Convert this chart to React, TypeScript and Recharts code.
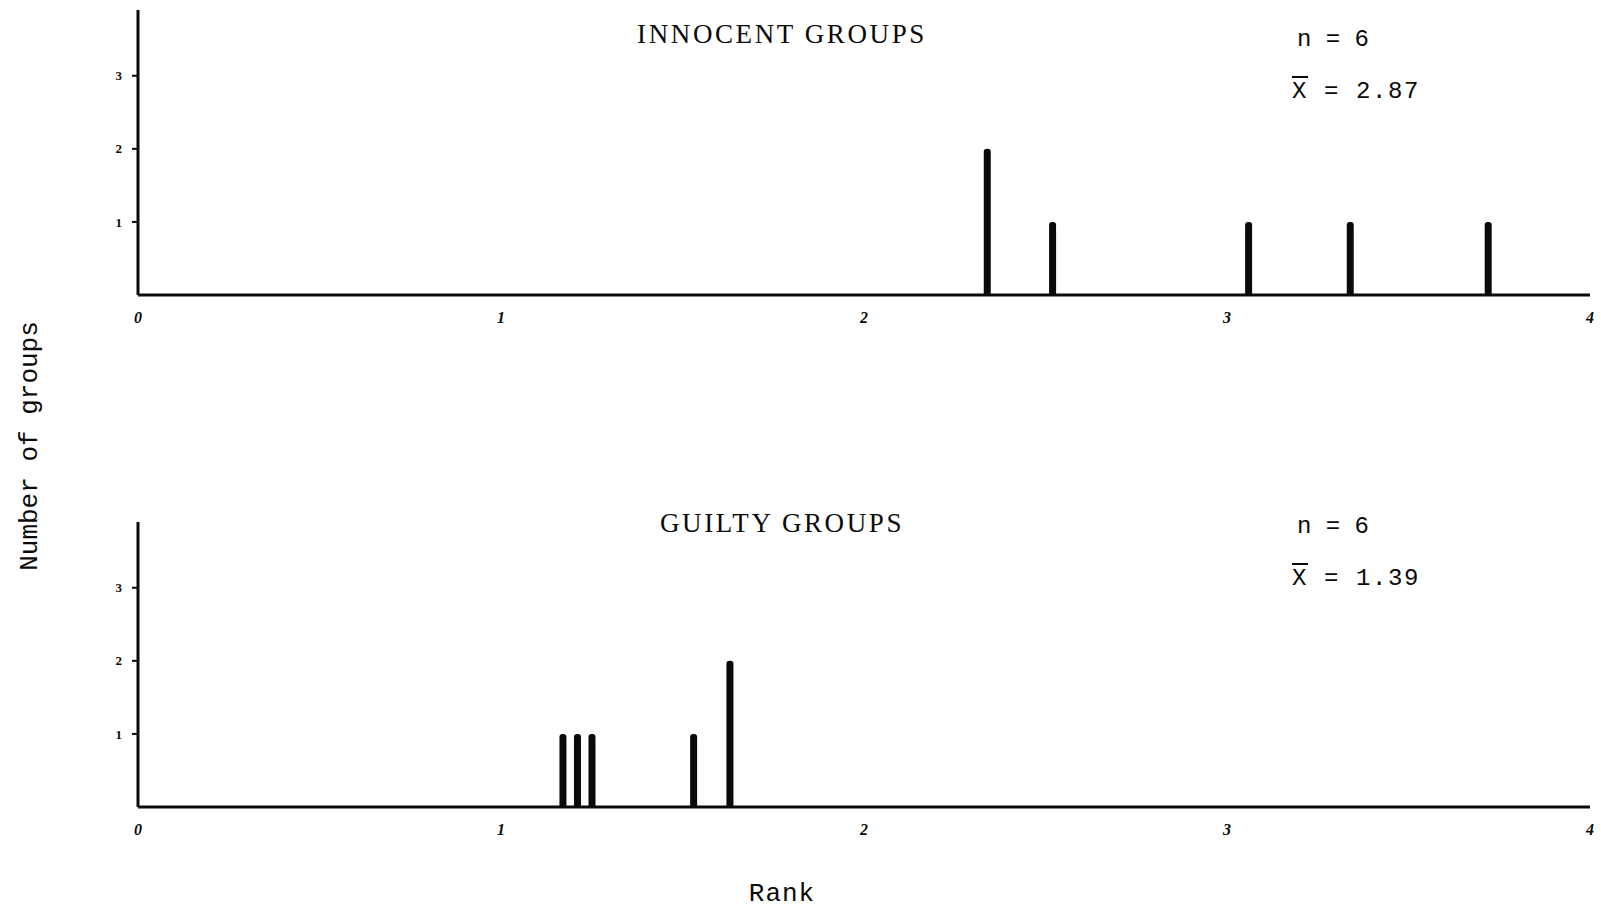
import React from "react";
import { BarChart, Bar, XAxis, YAxis } from "recharts";

// rank values (x) and number of groups at each rank (y)
const rankTicks = [0, 1, 2, 3, 4];
const countTicks = [1, 2, 3];

const innocentRanks = [2.34, 2.52, 3.06, 3.34, 3.72];
const innocentCounts = [2, 1, 1, 1, 1];

const guiltyRanks = [1.17, 1.21, 1.25, 1.53, 1.63];
const guiltyCounts = [1, 1, 1, 1, 2];

const toRows = (ranks: number[], counts: number[]) =>
  ranks.map((rank, i) => ({ rank, count: counts[i] }));

const innocentData = toRows(innocentRanks, innocentCounts);
const guiltyData = toRows(guiltyRanks, guiltyCounts);

const INK = "#0a0a0a";
const serif = "'Liberation Serif', 'DejaVu Serif', serif";
const mono = "'Liberation Mono', 'DejaVu Sans Mono', monospace";

function Panel({ data, top }: { data: Array<{ rank: number; count: number }>; top: number }) {
  return (
    <div style={{ position: "absolute", left: 0, top, width: 1601, height: 340 }}>
      <BarChart width={1601} height={340} data={data} margin={{ top: 10, right: 11, left: 0, bottom: 0 }}>
        <XAxis
          dataKey="rank"
          type="number"
          domain={[0, 4]}
          ticks={rankTicks}
          allowDataOverflow
          height={45}
          tickLine={false}
          tickSize={0}
          tickMargin={17}
          axisLine={{ stroke: INK, strokeWidth: 3 }}
          tick={{ fill: INK, fontSize: 16, fontStyle: "italic", fontWeight: "bold", fontFamily: serif }}
          interval={0}
        />
        <YAxis
          type="number"
          domain={[0, 3.9]}
          ticks={countTicks}
          allowDataOverflow
          width={138}
          tickSize={6}
          tickMargin={10}
          tickLine={{ stroke: INK, strokeWidth: 2 }}
          axisLine={{ stroke: INK, strokeWidth: 3 }}
          tick={{ fill: INK, fontSize: 13, fontWeight: "bold", fontFamily: serif }}
          interval={0}
        />
        <Bar dataKey="count" fill={INK} barSize={7} radius={[3, 3, 0, 0]} isAnimationActive={false} />
      </BarChart>
    </div>
  );
}

function Stats({ top, mean }: { top: number; mean: string }) {
  return (
    <div style={{ position: "absolute", left: 1292, top, fontFamily: mono, fontSize: 24, color: INK, lineHeight: "52px" }}>
      <div style={{ paddingLeft: 5 }}>n = 6</div>
      <div style={{ letterSpacing: 1.6 }}>
        <span style={{ textDecoration: "overline" }}>X</span> = {mean}
      </div>
    </div>
  );
}

function Title({ top, text }: { top: number; text: string }) {
  return (
    <div
      style={{
        position: "absolute",
        left: 482,
        width: 600,
        top,
        textAlign: "center",
        fontFamily: serif,
        fontSize: 27,
        letterSpacing: 2.6,
        color: INK,
      }}
    >
      {text}
    </div>
  );
}

export default function App() {
  return (
    <div style={{ position: "absolute", left: 0, top: 0, width: 1601, height: 908, background: "#fff", overflow: "hidden" }}>
      <Panel data={innocentData} top={0} />
      <Panel data={guiltyData} top={512} />

      <Title top={19} text="INNOCENT GROUPS" />
      <Title top={508} text="GUILTY GROUPS" />

      <Stats top={14} mean="2.87" />
      <Stats top={501} mean="1.39" />

      <div
        style={{
          position: "absolute",
          left: 30,
          top: 446,
          transform: "translate(-50%, -50%) rotate(-90deg)",
          whiteSpace: "nowrap",
          fontFamily: mono,
          fontSize: 26,
          color: INK,
        }}
      >
        Number of groups
      </div>
      <div
        style={{
          position: "absolute",
          left: 782,
          top: 879,
          transform: "translateX(-50%)",
          fontFamily: mono,
          fontSize: 26,
          letterSpacing: 1,
          color: INK,
        }}
      >
        Rank
      </div>
    </div>
  );
}
